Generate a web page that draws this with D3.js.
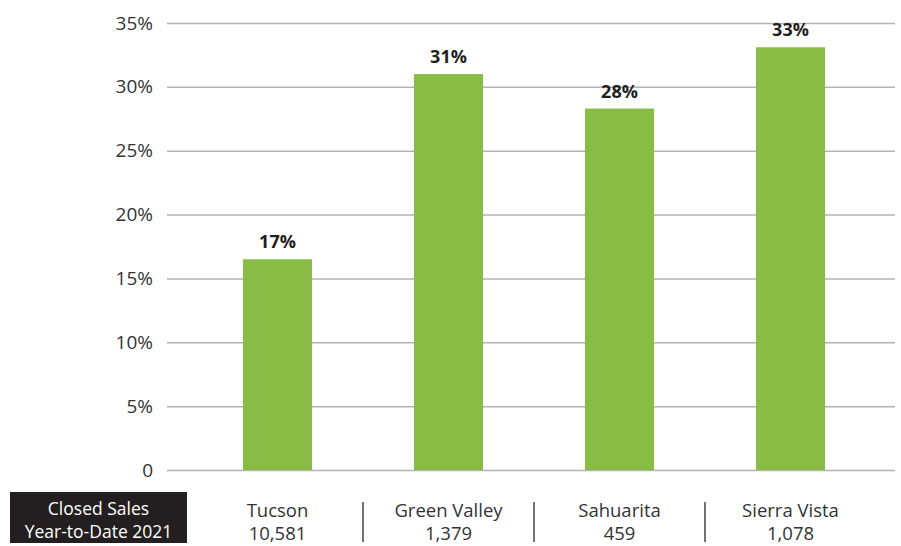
<!DOCTYPE html>
<html>
<head>
<meta charset="utf-8">
<script src="https://cdn.jsdelivr.net/npm/d3@7"></script>
<style>
  body { margin: 0; background: #fff; }
  svg { display: block; font-family: 'Open Sans', sans-serif; }
</style>
</head>
<body>
<div id="chart"></div>
<script>
const cities = ['Tucson', 'Green Valley', 'Sahuarita', 'Sierra Vista'];
const shares = [16.5, 31.0, 28.3, 33.1];
const closedSales = ['10,581', '1,379', '459', '1,078'];
const yTicks = [0, 5, 10, 15, 20, 25, 30, 35];

const width = 901;
const height = 546;

const svg = d3.select('#chart')
  .append('svg')
  .attr('width', width)
  .attr('height', height);

const y = d3.scaleLinear([0, 35], [470, 23]);
const x = d3.scaleBand(cities, [192, 876])
  .paddingInner(0.596)
  .paddingOuter(0.298);

// gridlines + tick labels
const yAxis = d3.axisLeft(y)
  .tickValues(yTicks)
  .tickSize(-(895 - 167))
  .tickPadding(14)
  .tickFormat((d) => d === 0 ? '0' : `${d}%`);

svg.append('g')
  .attr('transform', 'translate(167,0)')
  .call(yAxis)
  .call((g) => g.select('.domain').remove())
  .call((g) => g.selectAll('.tick line').attr('stroke', '#b3b3b3').attr('stroke-width', 1.5))
  .call((g) => g.selectAll('.tick text')
    .attr('fill', '#333')
    .style('font-size', '19px')
    .style('font-family', "'Open Sans', sans-serif"));

svg.append('g')
  .selectAll('rect')
  .data(cities)
  .join('rect')
  .attr('x', (d) => x(d))
  .attr('width', x.bandwidth())
  .attr('y', (d, i) => y(shares[i]))
  .attr('height', (d, i) => y(0) - y(shares[i]))
  .attr('fill', '#88bc45');

svg.append('g')
  .selectAll('text')
  .data(cities)
  .join('text')
  .attr('x', (d) => x(d) + x.bandwidth() / 2)
  .attr('y', (d, i) => y(shares[i]) - 11)
  .attr('text-anchor', 'middle')
  .attr('fill', '#231f20')
  .style('font-size', '18px')
  .style('font-weight', 'bold')
  .text((d, i) => `${Math.round(shares[i])}%`);

// bottom table
svg.append('rect')
  .attr('x', 10)
  .attr('y', 492)
  .attr('width', 177)
  .attr('height', 51)
  .attr('fill', '#231f20');

svg.append('text')
  .attr('x', 98.5)
  .attr('y', 515)
  .attr('text-anchor', 'middle')
  .attr('fill', '#fff')
  .style('font-size', '17.5px')
  .text('Closed Sales');

svg.append('text')
  .attr('x', 98.5)
  .attr('y', 538)
  .attr('text-anchor', 'middle')
  .attr('fill', '#fff')
  .style('font-size', '17.5px')
  .text('Year-to-Date 2021');

const labels = svg.append('g')
  .selectAll('g')
  .data(cities)
  .join('g')
  .attr('transform', (d) => `translate(${x(d) + x.bandwidth() / 2},0)`);

labels.append('text')
  .attr('y', 517)
  .attr('text-anchor', 'middle')
  .attr('fill', '#333')
  .style('font-size', '18.5px')
  .text((d) => d);

labels.append('text')
  .attr('y', 540)
  .attr('text-anchor', 'middle')
  .attr('fill', '#333')
  .style('font-size', '18.5px')
  .text((d, i) => closedSales[i]);

svg.append('g')
  .selectAll('line')
  .data(cities.slice(1))
  .join('line')
  .attr('x1', (d) => x(d) - x.step() * x.paddingInner() / 2)
  .attr('x2', (d) => x(d) - x.step() * x.paddingInner() / 2)
  .attr('y1', 502)
  .attr('y2', 542)
  .attr('stroke', '#444')
  .attr('stroke-width', 1.5);
</script>
</body>
</html>
